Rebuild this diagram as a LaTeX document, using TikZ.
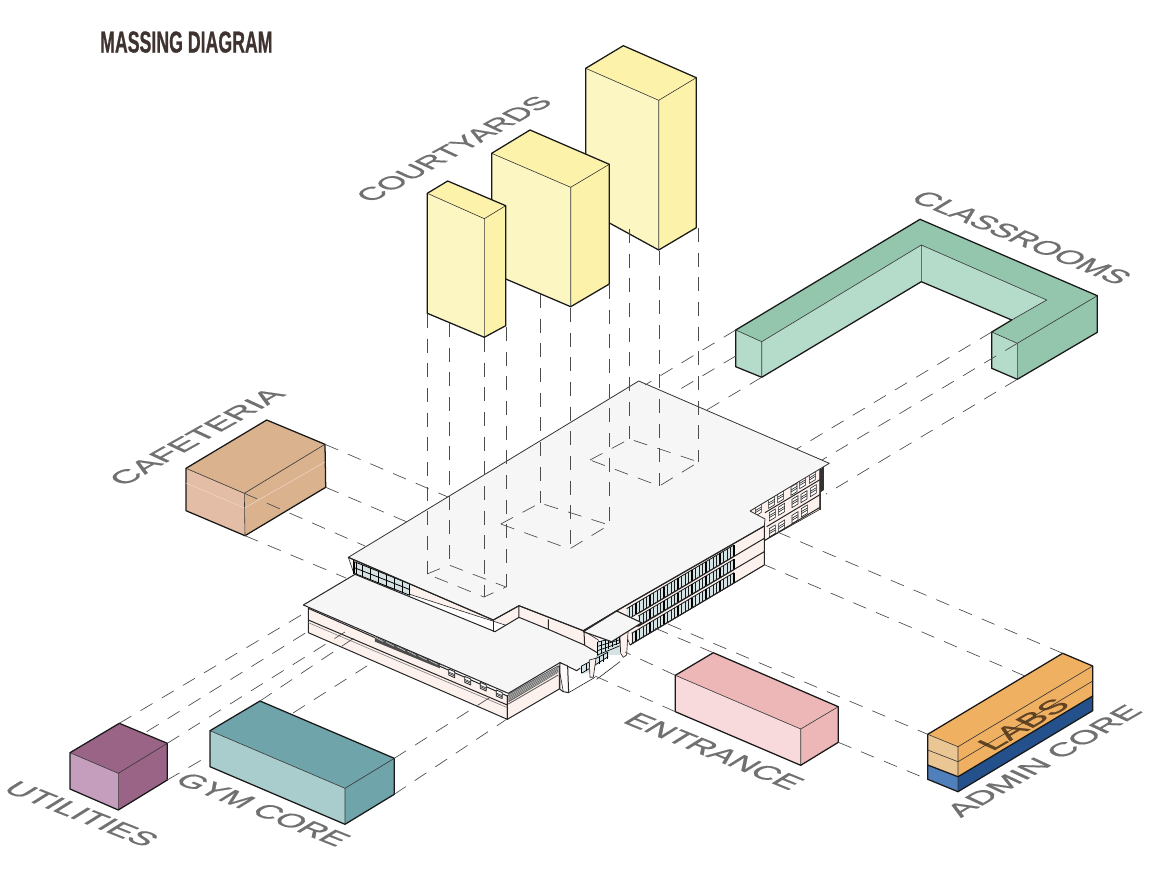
\documentclass[tikz,border=0pt]{standalone}
\usepackage{fontspec}
\setmainfont{Liberation Sans}
\newfontfamily\titlefont[FakeBold=0.9]{Liberation Sans Bold}
\newfontfamily\isofont[FakeBold=0.7]{Liberation Sans}
\definecolor{labelgray}{HTML}{707070}
\definecolor{titlecol}{HTML}{3F3330}
\definecolor{wallc}{HTML}{FDF1ED}
\definecolor{roofc}{HTML}{F6F6F6}
\definecolor{glassc}{HTML}{D5E3E5}
\definecolor{cyTop}{HTML}{FDF2AA}
\definecolor{cyLeft}{HTML}{FBF6C2}
\definecolor{clTop}{HTML}{93C6AC}
\definecolor{clLeft}{HTML}{B5DBCB}
\definecolor{cfTop}{HTML}{DAB28E}
\definecolor{cfLeft}{HTML}{E3BDA5}
\definecolor{utTop}{HTML}{9A6487}
\definecolor{utLeft}{HTML}{C49EBC}
\definecolor{gyTop}{HTML}{6FA4AB}
\definecolor{gyLeft}{HTML}{A9CDCC}
\definecolor{enTop}{HTML}{EDB7B7}
\definecolor{enLeft}{HTML}{F8DADC}
\definecolor{laTop}{HTML}{EFB062}
\definecolor{laLeft}{HTML}{EAC695}
\definecolor{adTop}{HTML}{24508C}
\definecolor{adLeft}{HTML}{4F80BC}
\tikzset{
  outline/.style={draw=black!90,line width=.95pt,line join=round},
  inner/.style={draw=black!80,line width=.45pt},
  dashline/.style={draw=black!70,line width=.5pt,dash pattern=on 10.5pt off 8pt},
  bld/.style={draw=black!85,line width=.75pt,line join=round},
  thin/.style={draw=black!85,line width=.45pt},
  isolabel/.style={anchor=base west,inner sep=0pt,outer sep=0pt,text=labelgray,font=\isofont\fontsize{22}{22}\selectfont},
}
% L B R F LB FB RB top left
\newcommand\massbox[9]{%
  \fill[#8] #1--#2--#3--#4--cycle;
  \fill[#9] #1--#4--#6--#5--cycle;
  \fill[#8] #4--#3--#7--#6--cycle;
  \draw[inner] #1--#4--#3 #4--#6;
  \draw[outline] #1--#2--#3--#7--#6--#5--cycle;
}
\newcommand\winA[2]{%
  \filldraw[fill=white,thin] (#1-9,#2-7)--(#1+9,#2-18)--(#1+9,#2+7)--(#1-9,#2+18)--cycle;
  \draw[thin] (#1-9,#2+2)--(#1+9,#2-9) (#1-9,#2+8)--(#1+9,#2-3);
}
\begin{document}
\begin{tikzpicture}[x=0.75pt,y=-0.75pt]
\useasboundingbox (0,0) rectangle (1154,871);
\fill[white] (0,0) rectangle (1154,871);

%% ---------- BUILDING ----------
\begin{scope}[shift={(570,450)},scale=0.3333]
  \filldraw[fill=wallc,thin] (540,183)--(750,55)--(750,178)--(583,272)--(583,228)--cycle;
  \foreach \cx/\cy in {565/180,605/157,632/140,672/118,698/98,727/82,
                       607/195,635/178,675/155,702/140,730/122,
                       607/243,635/228,675/203,703/183}{\winA{\cx}{\cy}}
  \draw[bld] (585,188)--(750,89) (590,230)--(750,134) (583,272)--(750,172);
  \fill[black!80] (748,60)--(762,50)--(762,120)--(753,126)--(753,180)--(748,180)--cycle;
  % long east wall
  \filldraw[fill=wallc,thin] (140,483)--(583,228)--(583,345)--(180,585)--cycle;
  \foreach \t/\l/\xe in {285/34/170,328/31/205,368/31/185}{
    \fill[glassc] (492,\t)--(\xe,{\t+(492-\xe)*.593})--(\xe,{\t+\l+(492-\xe)*.593})--(492,\t+\l)--cycle;
    \foreach \k in {0,10.5,...,320}{
      \pgfmathsetmacro\xx{492-\k}
      \ifdim\xx pt>\xe pt
        \draw[black!90,line width=.6pt] (\xx,{\t+\k*.593})--(\xx,{\t+\l+\k*.593});
      \fi}
    \draw[black!90,line width=.6pt] (492,\t)--(\xe,{\t+(492-\xe)*.593}) (492,\t+\l)--(\xe,{\t+\l+(492-\xe)*.593});
    \foreach \k in {0,42,...,320}{
      \pgfmathsetmacro\xx{492-\k}
      \ifdim\xx pt>\xe pt
        \draw[black,line width=1pt] (\xx,{\t+\k*.593})--(\xx,{\t+\l+\k*.593});
      \fi}
  }
  \draw[bld] (583,265)--(205,490) (583,305)--(200,530) (583,345)--(180,585) (583,228)--(583,345);
\end{scope}

% west wing
\begin{scope}[shift={(300,540)},scale=0.3333]
  \filldraw[fill=wallc,thin] (145,52)--(580,240)--(657,197)--(850,272)--(895,300)--(895,345)--(165,110)--cycle;
  \fill[glassc] (163,65)--(330,132)--(330,166)--(163,100)--cycle;
  \foreach \i in {0,...,7}{
    \draw[black,line width=.6pt] ({163+\i*23.8},{65+\i*9.6})--({163+\i*23.8},{100+\i*9.4});}
  \draw[black,line width=.6pt] (163,65)--(330,132) (163,83)--(330,149) (163,100)--(330,166);
  \draw[black,line width=.8pt] (160,60)--(160,102) (170,65)--(170,104);
  % wing front wall
  \filldraw[fill=wallc,bld] (25,205)--(622,468)--(622,538)--(25,278)--cycle;
  \draw[bld] (25,240)--(622,495);
  \draw[thin,black!50] (25,248)--(622,503);
  % wing right wall
  \filldraw[fill=wallc,bld] (622,468)--(778,378)--(778,447)--(622,538)--cycle;
  \fill[black!65] (625,462)--(775,376)--(775,398)--(625,487)--cycle;
  \foreach \d in {4,8,...,20}{\draw[white!80!black,line width=.3pt] (625,462+\d)--(775,376+\d);}
  \draw[black!60!wallc,line width=.7pt] (625,492)--(775,405);
  % front louvres
  \fill[black!70] (225,290)--(420,372)--(420,385)--(225,305)--cycle;
  \foreach \i in {0,...,6}{\draw[white!80!black,line width=.5pt] ({225+\i*32.5},{292+\i*13.7})--({250+\i*32.5},{313+\i*13.7-8});}
  \foreach \cx/\cy in {455/400,503/422,550/440,598/463}{
    \filldraw[fill=white,bld,line width=.6pt] (\cx-9,\cy-13)--(\cx+9,\cy-5)--(\cx+9,\cy+13)--(\cx-9,\cy+5)--cycle;
    \draw[thin] (\cx-9,\cy-4)--(\cx+9,\cy+4);
    \draw[thin] (\cx-9,\cy)--(\cx+9,\cy+8);}
  % wing roof
  \filldraw[fill=roofc,bld] (10,195)--(165,103)--(585,275)--(657,232)--(745,268)--(853,315)--(895,340)--(893,350)--(830,392)--(780,368)--(625,460)--cycle;
  \draw[bld] (745,238)--(745,270) (657,197)--(657,232) (852,272)--(854,315);
  % piers and link
  \filldraw[fill=wallc!40!white,bld] (780,368)--(803,378)--(806,458)--(790,455)--(780,448)--cycle;
  \draw[thin] (780,400)--(790,455);
  \draw[thin] (806,458)--(885,412) (890,418)--(960,365);
  % entrance glazing
  \fill[glassc] (893,305)--(960,290)--(960,345)--(893,345)--cycle;
  \foreach \i in {0,...,6}{\draw[black,line width=.6pt] ({893+\i*11},{306-\i*3})--({893+\i*11},{345-\i*6});}
  \foreach \d in {0,13,26,39}{\draw[black,line width=.5pt] (893,306+\d)--(960,290+\d*.7);}
  \fill[glassc] (840,380)--(890,350)--(925,335)--(925,350)--(860,400)--(845,400)--cycle;
  \foreach \i in {0,...,6}{\draw[black,line width=.6pt] ({845+\i*13},{378-\i*7})--({845+\i*13},{400-\i*7});}
  \draw[black,line width=.5pt] (845,378)--(925,336) (845,400)--(925,350);
  \filldraw[fill=wallc,bld,line width=.5pt] (868,360)--(888,355)--(880,412)--(870,412)--cycle;
  \filldraw[fill=wallc,bld,line width=.5pt] (960,285)--(985,262)--(980,345)--(970,352)--(962,340)--cycle;
\end{scope}

% main roof
\filldraw[fill=roofc,draw=black!80,line width=.6pt,line join=round]
  (348.3,557.3)--(638.7,381)--(829.3,463.3)--(750,511)--(765,519)--(764.3,526)--(616.7,610.7)--(583.3,630.7)--(519,605.7)--(493.3,620)--cycle;
\draw[bld,line width=.85pt] (764.3,526)--(616.7,610.7)--(583.3,630.7)--(519,605.7)--(493.3,620)--(348.3,557.3);
\draw[bld] (493.3,620)--(493.3,632);
% canopy
\filldraw[fill=roofc,bld,line width=.85pt] (583.3,631.7)--(616.7,611)--(641.7,622.7)--(611.7,641.7)--cycle;

%% ---------- MASSES ----------
\fill[clTop] (735.7,330)--(920,219.3)--(1097.3,295.7)--(1017.3,343.3)--(991.7,332)--(1046.7,300)--(921.3,245)--(761.7,341.7)--cycle;
\fill[clLeft] (735.7,330)--(761.7,341.7)--(761.7,377.3)--(735.7,366.7)--cycle;
\fill[clLeft] (761.7,341.7)--(921.3,245)--(921.3,281.7)--(761.7,377.3)--cycle;
\fill[clLeft] (921.3,245)--(1046.7,300)--(1011.7,320)--(921.3,281.7)--cycle;
\fill[clLeft] (991.7,332)--(1017.3,343.3)--(1017.3,379.3)--(991.7,368.3)--cycle;
\fill[clTop] (1017.3,343.3)--(1097.3,295.7)--(1097.3,332.3)--(1017.3,379.3)--cycle;
\draw[inner] (735.7,330)--(761.7,341.7)--(921.3,245)--(1046.7,300)--(1011.7,320) (761.7,341.7)--(761.7,377.3) (921.3,245)--(921.3,281.7) (991.7,332)--(1017.3,343.3)--(1097.3,295.7) (1017.3,343.3)--(1017.3,379.3);
\draw[outline] (735.7,330)--(920,219.3)--(1097.3,295.7)--(1097.3,332.3)--(1017.3,379.3)--(991.7,368.3)--(991.7,332)--(1011.7,320)--(921.3,281.7)--(761.7,377.3)--(735.7,366.7)--cycle;

\massbox{(585.7,68.3)}{(623.3,45.7)}{(696.3,77.7)}{(658.7,100.3)}{(585.7,210)}{(658.7,250)}{(696.3,227.7)}{cyTop}{cyLeft}
\massbox{(491.7,153.3)}{(530,130)}{(609.3,164.3)}{(570.7,187.3)}{(491.7,273)}{(570.7,306.7)}{(609.3,284)}{cyTop}{cyLeft}
\massbox{(427.3,193.3)}{(447.7,181)}{(505.7,205.7)}{(484.3,218.7)}{(427.3,313.3)}{(484.3,337.3)}{(505.7,325.7)}{cyTop}{cyLeft}
\massbox{(186,468.3)}{(266.7,420)}{(325,444.3)}{(244.3,493.3)}{(186,510.7)}{(245,535.7)}{(325.7,487.3)}{cfTop}{cfLeft}
\draw[cfLeft!60!white,line width=.4pt] (186,483)--(244.5,508)--(325,462);
\massbox{(70,752.7)}{(119.3,723.3)}{(167.3,743.3)}{(118.3,773.3)}{(70,789)}{(118.3,810)}{(167.3,780)}{utTop}{utLeft}
\massbox{(210,730.7)}{(260,701)}{(394.3,758.3)}{(345,788.3)}{(210,766.7)}{(345,824.3)}{(394.3,794.3)}{gyTop}{gyLeft}
\massbox{(675.3,675.3)}{(713.3,652.7)}{(838.3,706.7)}{(800.7,729)}{(675.3,711.7)}{(800.7,765.3)}{(838.3,742.3)}{enTop}{enLeft}
\massbox{(927.7,765)}{(1062.7,684)}{(1092.7,696)}{(958,776.7)}{(927.7,779.3)}{(958,791.7)}{(1092.7,710.7)}{adTop}{adLeft}
\massbox{(927.7,734.3)}{(1062.7,653.3)}{(1092.7,666)}{(958,746.7)}{(927.7,765)}{(958,776.7)}{(1092.7,696)}{laTop}{laLeft}
\draw[inner] (927.7,750)--(958,761.7)--(1092.7,681);

%% ---------- DASHED PROJECTION LINES ----------
\foreach \x/\a/\b in {427.3/314/574,449/323/565,484.3/338/597,506/327/587,
                      540/294/503,570/308/549,609.3/285/525,
                      629.3/229/439,659.3/251/486,698.7/228/462}{
  \draw[dashline] (\x,\a)--(\x,\b);}
\draw[dashline] (427,574)--(449,565)--(506,587)--(484,597)--cycle;
\draw[dashline] (500.7,524)--(540,503)--(609,525)--(569.5,549)--cycle;
\draw[dashline] (590,460)--(629.5,439)--(698.7,462)--(659.3,486)--cycle;
\draw[dashline] (735.7,330)--(645,385);
\draw[dashline] (735.7,356)--(672,394);
\draw[dashline] (761.7,377.3)--(705,411);
\draw[dashline] (991.7,332)--(796.6,449);
\draw[dashline] (1017.3,343.3)--(822,460);
\draw[dashline] (1017.3,379.3)--(826,494);
\draw[dashline] (325,444.3)--(448,497);
\draw[dashline] (325.7,487.3)--(407,522);
\draw[dashline] (244.3,493.3)--(365,546);
\draw[dashline] (245,535.7)--(346,578);
\draw[dashline] (119.3,723.3)--(308,611);
\draw[dashline] (146.7,731.7)--(307,632);
\draw[dashline] (167.3,743.3)--(345,632);
\draw[dashline] (167.3,780)--(210,755);
\draw[dashline] (260,701)--(363,632);
\draw[dashline] (293,713)--(370,664);
\draw[dashline] (394.3,758.3)--(497,693);
\draw[dashline] (394.3,794.3)--(507,719);
\draw[dashline] (675.3,675.3)--(625,652);
\draw[dashline] (675.3,711.7)--(595,676);
\draw[dashline] (713.3,652.7)--(650,626);
\draw[dashline] (668,624)--(927.7,734.3);
\draw[dashline] (838.3,742.3)--(927.7,779.3);
\draw[dashline] (1062.7,653.3)--(775,531);
\draw[dashline] (1025,676)--(765,565);

%% ---------- LABELS ----------
\node[anchor=base west,inner sep=0pt,text=titlecol,font=\titlefont\fontsize{22.7}{22.7}\selectfont,cm={0.586,0,0,1,(0,0)}] (title) at (100,52.5) {MASSING DIAGRAM};
\node[isolabel,cm={0.903,0.495,-0.86,0.40,(0,0)}] (courtyards) at (371,203) {COURTYARDS};
\node[isolabel,cm={1.008,-0.412,0.82,0.51,(0,0)}] (classrooms) at (909,200) {CLASSROOMS};
\node[isolabel,cm={0.987,0.557,-0.86,0.40,(0,0)}] (cafeteria) at (124,486.5) {CAFETERIA};
\node[isolabel,cm={1.047,-0.415,0.82,0.51,(0,0)}] (utilities) at (1.5,790.5) {UTILITIES};
\node[isolabel,cm={1.023,-0.407,0.82,0.51,(0,0)}] (gymcore) at (173,782) {GYM CORE};
\node[isolabel,cm={1.044,-0.425,0.82,0.51,(0,0)}] (entrance) at (621.5,722) {ENTRANCE};
\node[isolabel,cm={0.975,0.568,-0.86,0.40,(0,0)}] (admincore) at (961,818) {ADMIN CORE};
\node[isolabel,text=black!50!brown!80!black,opacity=.85,cm={1.057,0.62,-0.86,0.40,(0,0)}] (labs) at (992.5,751.5) {LABS};
\end{tikzpicture}
\end{document}
